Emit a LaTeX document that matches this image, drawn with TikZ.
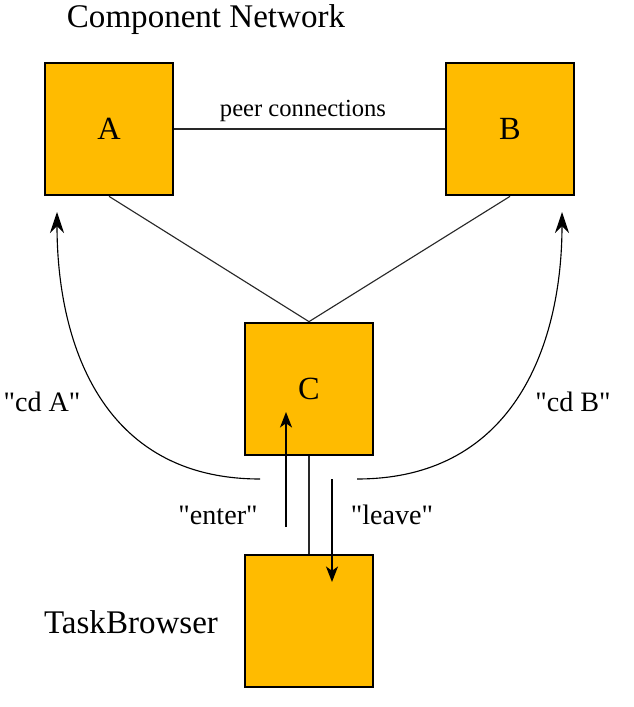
\documentclass[tikz,border=0pt]{standalone}
\usepackage{fontspec}
\setmainfont{Liberation Serif}
\usepackage{tikz}
\usetikzlibrary{arrows.meta}
\definecolor{amber}{RGB}{255,187,0}
\definecolor{wire}{RGB}{40,40,40}
\newcommand{\qt}[1]{\textquotedbl#1\textquotedbl}

\begin{document}
\begin{tikzpicture}[x=0.025cm,y=-0.025cm,
  unit/.style={draw=black,line width=1.9pt,fill=amber,minimum width=3.2cm,minimum height=3.3cm,inner sep=0pt,font=\fontsize{23}{26}\selectfont},
  tag/.style={anchor=base,inner sep=0pt,font=\fontsize{20}{24}\selectfont},
  link/.style={draw=wire,line width=0.8pt},
  cdarrow/.style={line width=0.8pt,-{Stealth[length=15pt,width=10pt,inset=5pt]}},
  walk/.style={line width=1.4pt,-{Stealth[length=11pt,width=8.5pt,inset=3pt]}}]
\useasboundingbox [fill=white] (0,0) rectangle (633,707);
% the four components
\node [unit] (A) at (109,129) {A};
\node [unit] (B) at (510,129) {B};
\node [unit] (C) at (309,389) {C};
\node [unit] (tb) at (309,621) {};
% texts
\node [tag,font=\fontsize{23.5}{28}\selectfont] (net) at (206,28) {Component Network};
\node [tag,font=\fontsize{17.5}{21}\selectfont] (peer) at (303,117) {peer connections};
\node [tag,font=\fontsize{23.5}{28}\selectfont] (tbname) at (131,633) {TaskBrowser};
\node [tag] (cda) at (42,411) {\qt{cd A}};
\node [tag] (cdb) at (573,411) {\qt{cd B}};
\node [tag] (enter) at (218,524) {\qt{enter}};
\node [tag] (leave) at (392,524) {\qt{leave}};
% peer links
\draw [link] (A) -- (B);
\draw [link] (A.south) -- (C.north);
\draw [link] (B.south) -- (C.north);
\draw [link] (C.south) -- (tb.north);
% cd arrows
\coordinate (ls) at (260,479);
\coordinate (lt) at (57,212);
\coordinate (rs) at (357,479);
\coordinate (rt) at (562,212);
\draw [cdarrow] (ls) .. controls (100,479) and (57,340) .. (lt);
\draw [cdarrow] (rs) .. controls (517,479) and (562,340) .. (rt);
% enter and leave
\coordinate (es) at (286,527);
\coordinate (et) at (286,412);
\coordinate (vs) at (332,479);
\coordinate (vt) at (332,582);
\draw [walk] (es) -- (et);
\draw [walk] (vs) -- (vt);
\end{tikzpicture}
\end{document}
